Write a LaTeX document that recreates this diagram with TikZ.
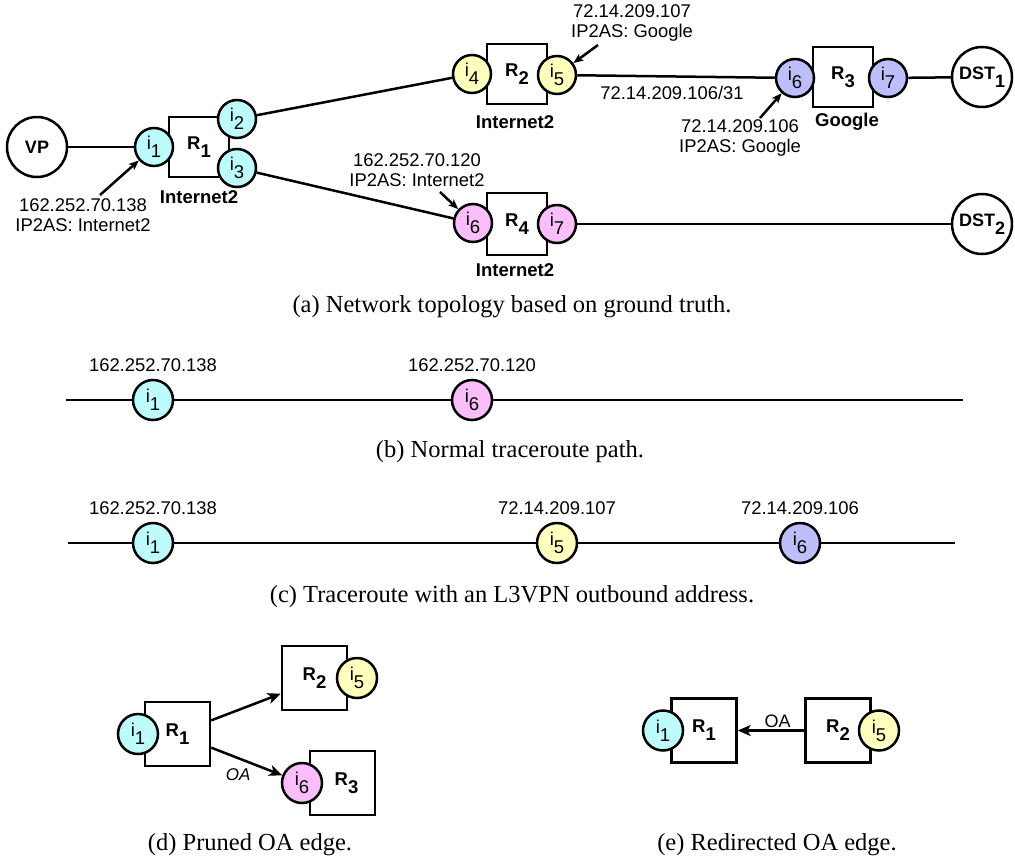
\documentclass[tikz,border=0pt]{standalone}
\usepackage{fontspec}
\setmainfont{Liberation Serif}
\setsansfont{Liberation Sans}
\usetikzlibrary{arrows.meta}
\definecolor{cyanF}{RGB}{190,252,252}
\definecolor{yelF}{RGB}{255,255,190}
\definecolor{pinkF}{RGB}{250,190,250}
\definecolor{purF}{RGB}{190,190,250}
\newcommand\lsub[2]{#1\raisebox{-0.42em}{#2}}
\begin{document}
\begin{tikzpicture}[x=1pt,y=-1pt,
  lw/.style={line width=2.5pt},
  router/.style={draw, lw, fill=white, minimum width=60pt, minimum height=60pt, inner sep=0pt,
    font=\sffamily\bfseries\fontsize{18.5}{20}\selectfont},
  routerd/.style={router, minimum width=65pt, minimum height=64pt},
  iface/.style={circle, draw, lw, minimum size=38pt, inner sep=0pt,
    font=\sffamily\fontsize{18.5}{20}\selectfont},
  ifaced/.style={iface, minimum size=40pt},
  endpt/.style={circle, draw, lw, fill=white, minimum size=60pt, inner sep=0pt,
    font=\sffamily\bfseries\fontsize{18}{19}\selectfont},
  txt/.style={font=\sffamily\fontsize{18.4}{20.5}\selectfont, inner sep=0pt, align=center},
  asname/.style={font=\sffamily\bfseries\fontsize{18.5}{20}\selectfont, inner sep=0pt},
  capt/.style={font=\fontsize{24.5}{28}\selectfont, inner sep=0pt},
  conn/.style={lw},
  ann/.style={lw, -{Stealth[length=10pt,width=8pt,inset=2.5pt]}},
  arr/.style={lw, -{Stealth[length=13pt,width=11pt,inset=3.5pt]}},
  cy/.style={fill=cyanF}, ye/.style={fill=yelF}, pk/.style={fill=pinkF}, pu/.style={fill=purF}
]
\useasboundingbox (0,0) rectangle (1015,857);

% ---------------- (a) ----------------
\node[endpt] (VP) at (37,147) {VP};
\node[router] (R1) at (199,147) {\lsub{R}{1}};
\node[iface,cy] (i1) at (154,147) {\lsub{i}{1}};
\node[iface,cy] (i2) at (237,119) {\lsub{i}{2}};
\node[iface,cy] (i3) at (237,168) {\lsub{i}{3}};
\node[asname] (as1) at (199,197) {Internet2};

\node[router] (R2) at (517,74) {\lsub{R}{2}};
\node[iface,ye] (i4) at (472,74) {\lsub{i}{4}};
\node[iface,ye] (i5) at (557,75) {\lsub{i}{5}};
\node[asname] (as2) at (515,122) {Internet2};

\node[router, minimum height=62pt] (R4) at (517,224) {\lsub{R}{4}};
\node[iface,pk] (i6) at (473,223) {\lsub{i}{6}};
\node[iface,pk] (i7) at (557,224) {\lsub{i}{7}};
\node[asname] (as4) at (515,270) {Internet2};

\node[router] (R3) at (843,77) {\lsub{R}{3}};
\node[iface,pu] (i6p) at (795,78) {\lsub{i}{6}};
\node[iface,pu] (i7p) at (888,78) {\lsub{i}{7}};
\node[asname] (as3) at (847,122) {Google};

\node[endpt] (DST1) at (982,77) {\lsub{DST}{1}};
\node[endpt] (DST2) at (982,224) {\lsub{DST}{2}};

\draw[conn] (VP) -- (i1);
\draw[conn] (i2) -- (i4);
\draw[conn] (i3) -- (i6);
\draw[conn] (i5) -- (i6p);
\draw[conn] (i7p) -- (DST1);
\draw[conn] (i7) -- (DST2);

\node[txt] (t1) at (83,215) {162.252.70.138\\IP2AS: Internet2};
\node[txt] (t2) at (417,170) {162.252.70.120\\IP2AS: Internet2};
\node[txt] (t3) at (632,23) {72.14.209.107\\IP2AS: Google};
\node[txt] (t4) at (672,93) {72.14.209.106/31};
\node[txt] (t5) at (740,138) {72.14.209.106\\IP2AS: Google};

\coordinate (a1) at (100,195);
\coordinate (a2) at (440,192);
\coordinate (a3) at (598,45);
\coordinate (a5) at (760,118);
\draw[ann] (a1) -- (i1);
\draw[ann] (a2) -- (i6);
\draw[ann] (a3) -- (i5);
\draw[ann] (a5) -- (i6p);

\node[capt] (capa) at (512,307) {(a) Network topology based on ground truth.};

% ---------------- (b) ----------------
\coordinate (bL) at (66,400);
\coordinate (bR) at (963,400);
\node[ifaced,cy] (i1b) at (153,400) {\lsub{i}{1}};
\node[ifaced,pk] (i6b) at (472,400) {\lsub{i}{6}};
\draw[conn] (bL) -- (i1b);
\draw[conn] (i1b) -- (i6b);
\draw[conn] (i6b) -- (bR);
\node[txt] (tb1) at (153,365) {162.252.70.138};
\node[txt] (tb2) at (472,365) {162.252.70.120};
\node[capt] (capb) at (510,452) {(b) Normal traceroute path.};

% ---------------- (c) ----------------
\coordinate (cL) at (68,543);
\coordinate (cR) at (955,543);
\node[ifaced,cy] (i1c) at (153,543) {\lsub{i}{1}};
\node[ifaced,ye] (i5c) at (557,543) {\lsub{i}{5}};
\node[ifaced,pu] (i6c) at (800,543) {\lsub{i}{6}};
\draw[conn] (cL) -- (i1c);
\draw[conn] (i1c) -- (i5c);
\draw[conn] (i5c) -- (i6c);
\draw[conn] (i6c) -- (cR);
\node[txt] (tc1) at (153,508) {162.252.70.138};
\node[txt] (tc2) at (557,508) {72.14.209.107};
\node[txt] (tc3) at (800,508) {72.14.209.106};
\node[capt] (capc) at (512,597) {(c) Traceroute with an L3VPN outbound address.};

% ---------------- (d) ----------------
\node[routerd] (R1d) at (177.5,734) {\lsub{R}{1}};
\node[ifaced,cy] (i1d) at (138,734) {\lsub{i}{1}};
\node[routerd] (R2d) at (314.5,678) {\lsub{R}{2}};
\node[ifaced,ye] (i5d) at (357,678) {\lsub{i}{5}};
\node[routerd] (R3d) at (342.5,783) {\hspace*{8pt}\lsub{R}{3}};
\node[ifaced,pk] (i6d) at (302,783) {\lsub{i}{6}};
\draw[arr] (R1d.22) -- (R2d.205);
\draw[arr] (R1d.-22) -- node[pos=0.38, below=9pt, inner sep=0pt,
   font=\sffamily\itshape\fontsize{17}{19}\selectfont] (oad) {OA} (i6d);
\node[capt] (capd) at (250,845) {(d) Pruned OA edge.};

% ---------------- (e) ----------------
\node[routerd] (R1e) at (704,730.5) {\lsub{R}{1}};
\node[ifaced,cy] (i1e) at (663,730.5) {\lsub{i}{1}};
\node[routerd] (R2e) at (838,730.5) {\lsub{R}{2}};
\node[ifaced,ye] (i5e) at (879,730.5) {\lsub{i}{5}};
\draw[arr] (R2e.west) -- node[pos=0.4, anchor=south, inner sep=2pt,
   font=\sffamily\fontsize{18}{20}\selectfont] (oae) {OA} (R1e.east);
\node[capt] (cape) at (777,845) {(e) Redirected OA edge.};
\end{tikzpicture}
\end{document}
